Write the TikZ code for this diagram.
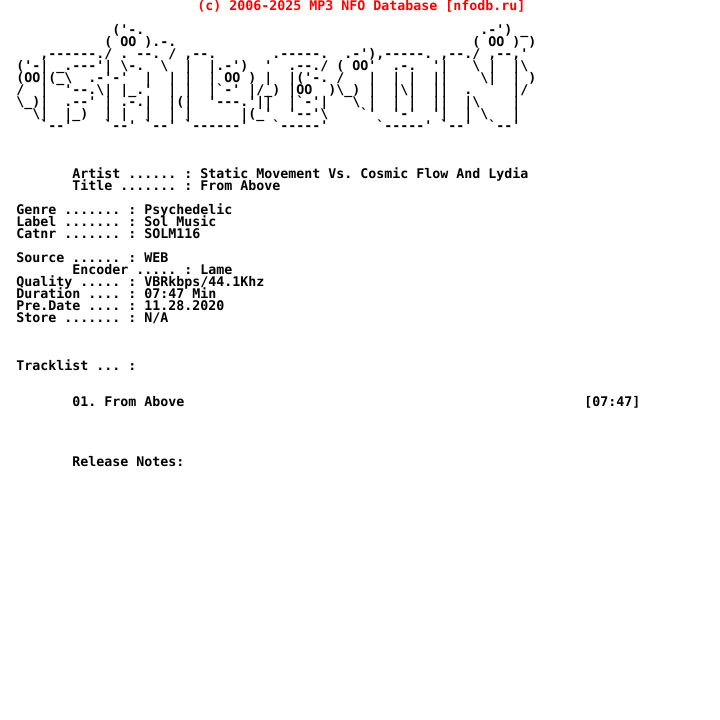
\documentclass[tikz,border=0pt]{standalone}
\usepackage{fontspec}
\setmonofont{DejaVu Sans Mono}
\usepackage{tikz}
\newcommand\bsl{\char`\\}
\definecolor{headred}{HTML}{FF0000}
\begin{document}
\begin{tikzpicture}[x=0.75pt, y=-0.75pt]
	\tikzstyle{every node}=[inner sep=0pt, anchor=base west, font=\ttfamily\bfseries\fontsize{9.97}{12}\selectfont]
	\useasboundingbox (0, 0) rectangle (720, 720);
	\node[text=headred] (head) at (197, 10.6) {(c) 2006-2025 MP3 NFO Database [nfodb.ru]};
	% logo
	\foreach \row/\txt in {
		2/{~~~~~~~~~~~~~~('-.~~~~~~~~~~~~~~~~~~~~~~~~~~~~~~~~~~~~~~~~~~.-')~\_},
		3/{~~~~~~~~~~~~~(~OO~).-.~~~~~~~~~~~~~~~~~~~~~~~~~~~~~~~~~~~~~(~OO~)~)},
		4/{~~~~~,------./~.~--.~/~,--.~~~~~~~.-----.~~.-'),-----.~,--./~,--,'},
		5/{~~('-|~\_.---'|~\bsl-.~~\bsl~~|~~|.-')~~'~~.--./~(~OO'~~.-.~~'|~~~\bsl~|~~|\bsl},
		6/{~~(OO|(\_\bsl~~.-'-'~~|~~|~|~~|~OO~)~|~~|('-.~/~~~|~~|~|~~||~~~~\bsl|~~|~)},
		7/{~~/~~|~~'--.\bsl|~|\_.'~~|~|~~|`-'~|/\_)~|OO~~)\bsl\_)~|~~|\bsl|~~||~~.~~~~~|/},
		8/{~~\bsl\_)|~~.--'~|~.-.|~~|(|~~'---.'||~~|`-'|~~~\bsl~|~~|~|~~||~~|\bsl~~~~|},
		9/{~~~~\bsl|~~|\_)~~|~|~~|~~|~|~~~~~~|(\_'~~'--'\bsl~~~~`'~~'-'~~'|~~|~\bsl~~~|},
		10/{~~~~~`--'~~~~`--'~`--'~`------'~~~`-----'~~~~~~`-----'~`--'~~`--'}}
	{
		\node (logo\row) at (0, 10.6+\row*12) {\txt};
	}
	% release info
	\foreach \col/\row/\txt in {
		9/14/{Artist ...... : Static Movement Vs. Cosmic Flow And Lydia},
		9/15/{Title ....... : From Above},
		2/17/{Genre ....... : Psychedelic},
		2/18/{Label ....... : Sol Music},
		2/19/{Catnr ....... : SOLM116},
		2/21/{Source ...... : WEB},
		9/22/{Encoder ..... : Lame},
		2/23/{Quality ..... : VBRkbps/44.1Khz},
		2/24/{Duration .... : 07:47 Min},
		2/25/{Pre.Date .... : 11.28.2020},
		2/26/{Store ....... : N/A},
		2/30/{Tracklist ... :},
		9/33/{01. From Above},
		73/33/{[07:47]},
		9/38/{Release Notes:}}
	{
		\node (info\row-\col) at (\col*8, 10.6+\row*12) {\txt};
	}
\end{tikzpicture}
\end{document}
